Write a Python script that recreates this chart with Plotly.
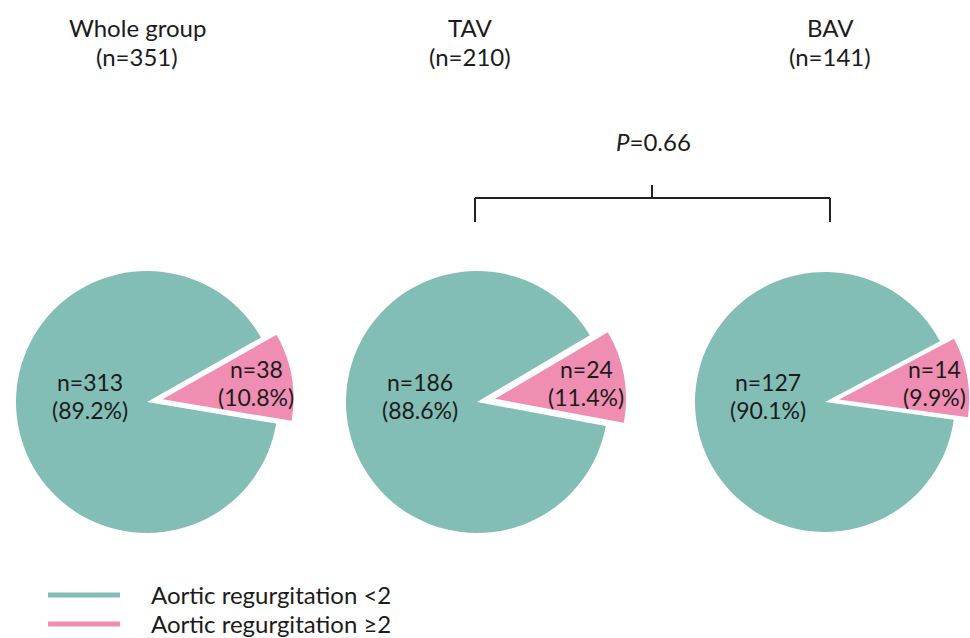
import plotly.graph_objects as go

# ---- data ----
groups = ["Whole group", "TAV", "BAV"]
group_totals = [351, 210, 141]
ar_lt2 = [313, 186, 127]      # Aortic regurgitation <2
ar_ge2 = [38, 24, 14]         # Aortic regurgitation >=2
legend_labels = ["Aortic regurgitation <2", "Aortic regurgitation ≥2"]
p_value_text = "<i>P</i>=0.66"

# ---- style / layout ----
W, H = 970, 638
TEAL = "#82BEB6"
PINK = "#F08DB2"
TXT = "#1b1b1b"
FONT = "Lato, 'Noto Sans', sans-serif"

centers = [(147, 402), (477, 402), (825, 402)]
radii = [131, 131, 130]
pulls = [0.12, 0.14, 0.11]


def px_x(x):
    return min(1.0, max(0.0, x / W))


def px_y(y):
    return min(1.0, max(0.0, 1 - y / H))


def fmt_pct(v, tot):
    return f"({100.0 * v / tot:.1f}%)"


fig = go.Figure()
annotations = []
for i, g in enumerate(groups):
    cx, cy = centers[i]
    hw = radii[i] * (1 + pulls[i])
    total = ar_lt2[i] + ar_ge2[i]
    pink_span = 360.0 * ar_ge2[i] / total
    fig.add_trace(go.Pie(
        labels=[legend_labels[1], legend_labels[0]],
        values=[ar_ge2[i], ar_lt2[i]],
        sort=False,
        direction="clockwise",
        rotation=80 - pink_span / 2,
        pull=[pulls[i], 0],
        marker=dict(colors=[PINK, TEAL], line=dict(width=0)),
        textinfo="none",
        hoverinfo="label+value+percent",
        showlegend=False,
        domain=dict(x=[px_x(cx - hw), px_x(cx + hw)],
                    y=[px_y(cy + hw), px_y(cy - hw)]),
    ))
    # slice labels
    for (val, dx, dy1, dy2) in [(ar_lt2[i], -57, -20, 8), (ar_ge2[i], 109, -33, -5)]:
        for txt, dy in [(f"n={val}", dy1), (fmt_pct(val, total), dy2)]:
            annotations.append(dict(
                x=px_x(cx + dx), y=px_y(cy + dy), xref="paper", yref="paper",
                text=txt, showarrow=False,
                font=dict(size=23, color=TXT, family=FONT),
                xanchor="center", yanchor="middle",
            ))

title_x = [137, 470, 830]
for i, g in enumerate(groups):
    for txt, y in [(g, 27), (f"(n={group_totals[i]})", 56)]:
        annotations.append(dict(
            x=px_x(title_x[i]), y=px_y(y), xref="paper", yref="paper",
            text=txt, showarrow=False,
            font=dict(size=24, color=TXT, family=FONT),
            xanchor="center", yanchor="middle",
        ))

annotations.append(dict(
    x=px_x(653), y=px_y(141), xref="paper", yref="paper", text=p_value_text,
    showarrow=False, font=dict(size=24, color=TXT, family=FONT),
    xanchor="center", yanchor="middle",
))

shapes = []
LC = "#222222"
for (x0, y0, x1, y1) in [(475, 198, 830, 198), (475, 198, 475, 222),
                         (830, 198, 830, 222), (652, 185, 652, 198)]:
    shapes.append(dict(type="line", xref="paper", yref="paper",
                       x0=px_x(x0), y0=px_y(y0), x1=px_x(x1), y1=px_y(y1),
                       line=dict(color=LC, width=2)))

leg_y = [594, 623]
leg_colors = [TEAL, PINK]
for j, lab in enumerate(legend_labels):
    shapes.append(dict(type="line", xref="paper", yref="paper",
                       x0=px_x(48), x1=px_x(120), y0=px_y(leg_y[j] + 1), y1=px_y(leg_y[j] + 1),
                       line=dict(color=leg_colors[j], width=5)))
    annotations.append(dict(
        x=px_x(149), y=px_y(leg_y[j]), xref="paper", yref="paper", text=lab,
        showarrow=False, font=dict(size=24, color=TXT, family=FONT),
        xanchor="left", yanchor="middle",
    ))

fig.update_layout(
    width=W, height=H,
    margin=dict(l=0, r=0, t=0, b=0),
    paper_bgcolor="white", plot_bgcolor="white",
    annotations=annotations, shapes=shapes,
    font=dict(family=FONT, color=TXT),
)

fig.write_html(
    "out.html",
    config={"displayModeBar": False},
    post_script="document.body.style.margin='0';document.body.style.overflow='hidden';",
)
